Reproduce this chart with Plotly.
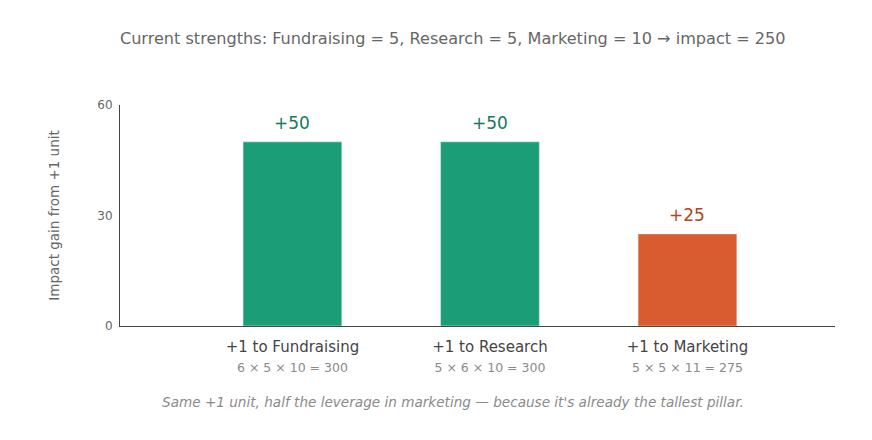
import plotly.graph_objects as go

categories = ['+1 to Fundraising', '+1 to Research', '+1 to Marketing']
formulas = ['6 × 5 × 10 = 300', '5 × 6 × 10 = 300', '5 × 5 × 11 = 275']
gains = [50, 50, 25]
labels = ['+50', '+50', '+25']

bar_colors = ['#1b9e77', '#1b9e77', '#d95b30']
label_colors = ['#137a5c', '#137a5c', '#b2441e']

xpos = list(range(len(categories)))
ticktext = [f"{c}<br><span style='font-size:12.5px;color:#8a8a8a'>{f}</span>"
            for c, f in zip(categories, formulas)]

fig = go.Figure(go.Bar(
    x=xpos, y=gains, width=0.5,
    marker_color=bar_colors,
    hoverinfo='skip',
))

for x, y, t, c in zip(xpos, gains, labels, label_colors):
    fig.add_annotation(x=x, y=y, text=t, showarrow=False, yanchor='bottom',
                       yshift=7, font=dict(size=17, color=c))

fig.update_layout(
    width=872, height=440,
    margin=dict(l=112, r=45, t=97, b=122),
    paper_bgcolor='white', plot_bgcolor='white',
    font=dict(family='DejaVu Sans', color='#555555'),
    showlegend=False,
    title=dict(text='Current strengths: Fundraising = 5, Research = 5, Marketing = 10 → impact = 250',
               x=0.51, xanchor='center', y=0.931, yanchor='middle',
               font=dict(size=16.1, color='#666666')),
)

fig.update_xaxes(
    range=[-0.873, 2.747], tickvals=xpos, ticktext=ticktext,
    tickfont=dict(size=15, color='#444444'), ticklabelstandoff=7,
    showline=True, linecolor='#444444', linewidth=1,
    showgrid=False, zeroline=False, ticks='',
)
fig.update_yaxes(
    range=[0, 60], tickvals=[0, 30, 60],
    tickfont=dict(size=12, color='#666666'), ticklabelstandoff=4,
    title=dict(text='Impact gain from +1 unit', font=dict(size=13.5, color='#666666'), standoff=34),
    showline=True, linecolor='#444444', linewidth=1,
    showgrid=False, zeroline=False, ticks='',
)

fig.add_annotation(
    text="<i>Same +1 unit, half the leverage in marketing — because it's already the tallest pillar.</i>",
    xref='paper', yref='paper', x=0.466, y=-0.344, xanchor='center', yanchor='middle',
    showarrow=False, font=dict(size=13.6, color='#8a8a8a'),
)

fig.write_html('out.html')
